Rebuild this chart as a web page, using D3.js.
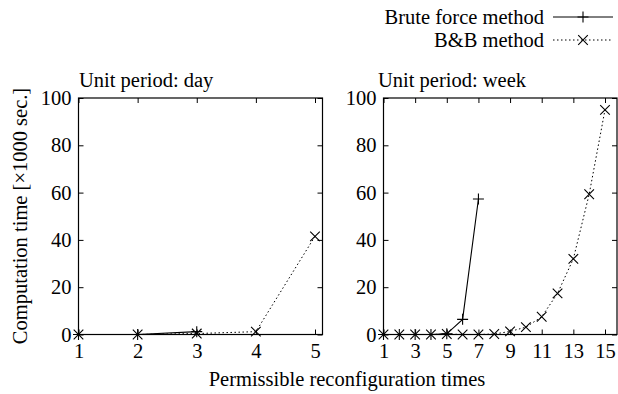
<!DOCTYPE html>
<html><head><meta charset="utf-8">
<script src="https://cdn.jsdelivr.net/npm/d3@7"></script>
<style>
body{margin:0;background:#fff;}
text{font-family:"Liberation Serif","Times New Roman",serif;fill:#000;}
</style></head>
<body><svg id="c" width="618" height="394"></svg>
<script>
// Data
const dayX = [1, 2, 3, 4, 5];
const dayBrute = [0, 0, 1.2];
const dayBB = [0, 0, 0.4, 1.2, 41.5];
const weekX = [1, 2, 3, 4, 5, 6, 7, 8, 9, 10, 11, 12, 13, 14, 15];
const weekBrute = [0, 0, 0, 0, 0.3, 6.4, 57.3];
const weekBB = [0, 0, 0, 0, 0.2, 0, 0, 0.2, 1.3, 3.1, 7.5, 17.4, 32, 59.3, 95];
const yTicks = [0, 20, 40, 60, 80, 100];
const dayTicks = [1, 2, 3, 4, 5];
const weekTicks = [1, 3, 5, 7, 9, 11, 13, 15];
const seriesNames = ["Brute force method", "B&B method"];

const svg = d3.select("#c");
const FS = 20.5;

function panel(opt) {
  const x = d3.scaleLinear().domain(opt.xd).range(opt.xr);
  const y = d3.scaleLinear().domain([0, 100]).range([334.5, 98]);
  const g = svg.append("g");
  const left = opt.xr[0], right = opt.right;
  g.append("rect").attr("x", left).attr("y", y(100)).attr("width", right - left)
    .attr("height", y(0) - y(100)).attr("fill", "none").attr("stroke", "#000").attr("stroke-width", 1.2);
  const ax = (sel) => { sel.select(".domain").remove(); sel.selectAll("line").attr("stroke", "#000"); sel.selectAll("text").style("font-size", FS + "px").style("font-family", '"Liberation Serif",serif'); };
  g.append("g").attr("transform", `translate(0,${y(0)})`)
    .call(d3.axisBottom(x).tickValues(opt.ticks).tickFormat(d3.format("d")).tickSizeInner(-5).tickSizeOuter(0).tickPadding(9))
    .call(ax);
  g.append("g").attr("transform", `translate(0,${y(100)})`)
    .call(d3.axisTop(x).tickValues(opt.ticks).tickFormat("").tickSizeInner(-5).tickSizeOuter(0))
    .call(ax);
  g.append("g").attr("transform", `translate(${left},0)`)
    .call(d3.axisLeft(y).tickValues(yTicks).tickFormat(d3.format("d")).tickSizeInner(-5).tickSizeOuter(0).tickPadding(7))
    .call(ax);
  g.append("g").attr("transform", `translate(${right},0)`)
    .call(d3.axisRight(y).tickValues(yTicks).tickFormat("").tickSizeInner(-5).tickSizeOuter(0))
    .call(ax);
  g.append("text").attr("x", opt.titleX).attr("y", 87).style("font-size", FS + "px").text(opt.title);
  const line = d3.line().x(d => x(d[0])).y(d => y(d[1]));
  const bruteData = opt.brute.map((v, i) => [opt.xs[i], v]);
  const bbData = opt.bb.map((v, i) => [opt.xs[i], v]);
  g.append("path").datum(bbData).attr("d", line).attr("fill", "none").attr("stroke", "#000").attr("stroke-width", 1).attr("stroke-dasharray", "1.5,2.5");
  g.append("path").datum(bruteData).attr("d", line).attr("fill", "none").attr("stroke", "#000").attr("stroke-width", 1.1);
  bbData.forEach(d => crossX(g, x(d[0]), y(d[1])));
  bruteData.forEach(d => plus(g, x(d[0]), y(d[1])));
}
function plus(g, cx, cy) {
  const s = 5.5;
  g.append("path").attr("d", `M${cx - s},${cy}H${cx + s}M${cx},${cy - s}V${cy + s}`).attr("stroke", "#000").attr("stroke-width", 1.1);
}
function crossX(g, cx, cy) {
  const s = 4.8;
  g.append("path").attr("d", `M${cx - s},${cy - s}L${cx + s},${cy + s}M${cx - s},${cy + s}L${cx + s},${cy - s}`).attr("stroke", "#000").attr("stroke-width", 1.1);
}

panel({ xd: [1, 5], xr: [78.5, 315], right: 322.5, ticks: dayTicks, xs: dayX, brute: dayBrute, bb: dayBB, title: "Unit period: day", titleX: 79 });
panel({ xd: [1, 15], xr: [383.5, 605], right: 617, ticks: weekTicks, xs: weekX, brute: weekBrute, bb: weekBB, title: "Unit period: week", titleX: 378 });

svg.append("text").attr("transform", "translate(27,216) rotate(-90)").attr("text-anchor", "middle").style("font-size", FS + "px").text("Computation time [×1000 sec.]");
svg.append("text").attr("x", 347).attr("y", 386).attr("text-anchor", "middle").style("font-size", FS + "px").text("Permissible reconfiguration times");

const leg = svg.append("g");
seriesNames.forEach((n, i) => {
  const ly = 17 + i * 23;
  leg.append("text").attr("x", 544).attr("y", ly + 7).attr("text-anchor", "end").style("font-size", FS + "px").text(n);
  leg.append("line").attr("x1", 553).attr("x2", 613).attr("y1", ly).attr("y2", ly).attr("stroke", "#000")
    .attr("stroke-width", 1).attr("stroke-dasharray", i === 1 ? "1.5,2.5" : null);
  if (i === 0) plus(leg, 583, ly); else crossX(leg, 583, ly);
});
</script></body></html>
